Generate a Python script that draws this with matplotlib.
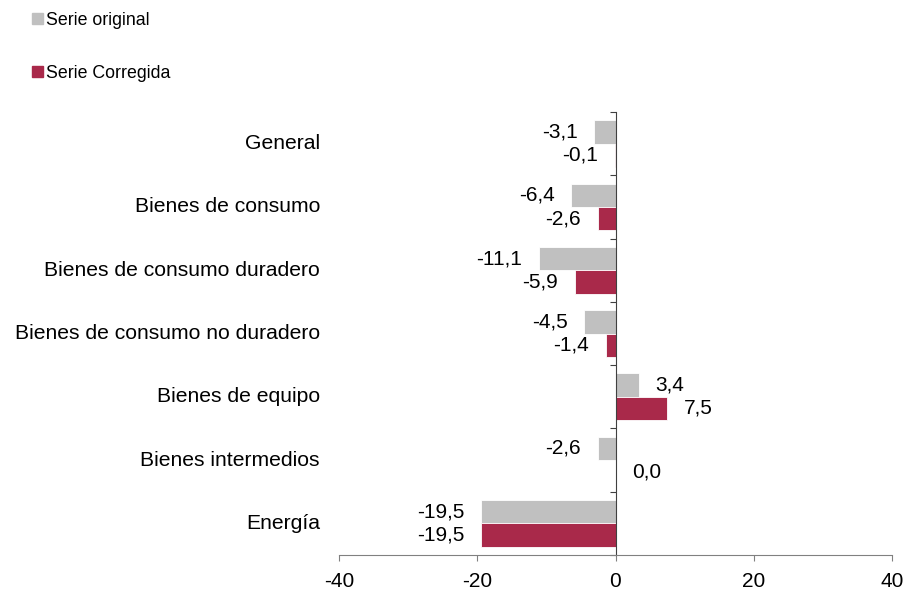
import numpy as np
import matplotlib.pyplot as plt
import matplotlib.transforms as mtransforms
from matplotlib.patches import Patch

plt.rcParams['font.family'] = ['Liberation Sans', 'DejaVu Sans']

categorias = ['General', 'Bienes de consumo', 'Bienes de consumo duradero',
              'Bienes de consumo no duradero', 'Bienes de equipo',
              'Bienes intermedios', 'Energía']
serie_original = [-3.1, -6.4, -11.1, -4.5, 3.4, -2.6, -19.5]
serie_corregida = [-0.1, -2.6, -5.9, -1.4, 7.5, 0.0, -19.5]
xticks = [-40, -20, 0, 20, 40]

gris = '#C0C0C0'
rojo = '#A9294A'

fig = plt.figure(figsize=(9.08, 5.90), dpi=100)
ax = fig.add_axes([339 / 908, 1 - 555 / 590, 553 / 908, 443 / 590])

y = np.arange(len(categorias))
h = 0.37
ax.barh(y - h / 2, serie_original, height=h, color=gris, edgecolor='white', linewidth=0.6, zorder=2)
ax.barh(y + h / 2, serie_corregida, height=h, color=rojo, edgecolor='white', linewidth=0.6, zorder=2)

def etiqueta(v, yy):
    txt = f'{v:.1f}'.replace('.', ',')
    if v < 0:
        ax.annotate(txt, (v, yy), xytext=(-12, 0), textcoords='offset points',
                    ha='right', va='center', fontsize=15)
    else:
        ax.annotate(txt, (v, yy), xytext=(12, 0), textcoords='offset points',
                    ha='left', va='center', fontsize=15)

for i in range(len(categorias)):
    etiqueta(serie_original[i], y[i] - h / 2)
    etiqueta(serie_corregida[i], y[i] + h / 2)

ax.set_xlim(-40, 40)
ax.set_ylim(len(categorias) - 0.5, -0.5)

# eje vertical en el cero
ax.spines['left'].set_position(('data', 0))
ax.spines['left'].set_color('#404040')
ax.spines['bottom'].set_color('#808080')
ax.spines['right'].set_visible(False)
ax.spines['top'].set_visible(False)

ax.set_yticks(np.arange(-0.5, len(categorias), 1.0))
ax.set_yticklabels([])
ax.tick_params(axis='y', direction='out', length=4.5, color='#404040')

ax.set_xticks(xticks)
ax.set_xticklabels([str(t) for t in xticks], fontsize=15)
ax.tick_params(axis='x', direction='out', length=4.5, color='#808080', pad=8)

trans = mtransforms.blended_transform_factory(ax.transAxes, ax.transData)
for i, c in enumerate(categorias):
    ax.text(-19 / 553, y[i], c, transform=trans, ha='right', va='center', fontsize=15.2)

handles = [Patch(color=gris, label='Serie original'), Patch(color=rojo, label='Serie Corregida')]
fig.legend(handles=handles, loc='upper left', bbox_to_anchor=(32 / 908, 1 - 12 / 590),
           frameon=False, fontsize=12.8, handlelength=0.6, handleheight=0.6,
           handletextpad=0.2, labelspacing=2.0, borderaxespad=0, borderpad=0)

fig.savefig('out.png', dpi=100)
